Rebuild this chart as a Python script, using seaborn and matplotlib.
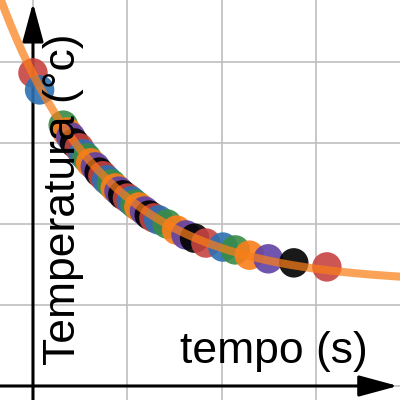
import numpy as np
import pandas as pd
import seaborn as sns
import matplotlib.pyplot as plt

# measured cooling data (time in s, temperature in C)
tempo = [0, 7, 32, 36, 40, 44, 49, 53, 57, 61, 66, 70, 74, 78, 83, 87, 91, 95,
         100, 104, 108, 112, 118, 123, 128, 133, 142, 152, 162, 171, 183, 201,
         214, 229, 249, 276, 311]
temperatura = [77.3, 73.1, 64.4, 62.7, 61.5, 60.0, 58.8, 57.3, 56.3, 55.1, 54.1,
               52.8, 51.9, 50.9, 49.9, 48.9, 48.1, 47.2, 46.4, 45.7, 44.9, 44.2,
               43.2, 42.2, 41.5, 41.0, 40.0, 38.5, 37.3, 36.5, 35.3, 34.3, 33.6,
               32.3, 31.4, 30.4, 29.4]
cores = ["red", "blue", "green", "orange", "purple", "black"]

# fitted model T = T_amb + dT * exp(-k t)
T_amb = 25.4
dT = 51.6
k = 0.00894

palette = {"red": "#c74440", "blue": "#2d70b3", "green": "#388c46",
           "orange": "#fa7e19", "purple": "#6042a6", "black": "#000000"}

df = pd.DataFrame({"tempo": tempo, "temperatura": temperatura})
df["cor"] = [cores[i % len(cores)] for i in range(len(df))]

t_fit = np.linspace(-40, 395, 300)
fit = pd.DataFrame({"tempo": t_fit, "temperatura": T_amb + dT * np.exp(-k * t_fit)})

sns.set_theme(style="white")
plt.rcParams["font.family"] = ["Liberation Sans", "DejaVu Sans"]

fig = plt.figure(figsize=(4, 4), dpi=100)
ax = fig.add_axes([0, 0, 1, 1])

xmin, xmax = -34.9, 388.4
ymin, ymax = -3.46, 95.3
ax.set_xlim(xmin, xmax)
ax.set_ylim(ymin, ymax)

# grid
ax.set_xticks([0, 100, 200, 300])
ax.set_yticks([0, 20, 40, 60, 80])
ax.grid(True, color="#bfbfbf", linewidth=1.2)
ax.tick_params(length=0, labelbottom=False, labelleft=False)
for s in ax.spines.values():
    s.set_visible(False)

# axis labels (behind the points)
fig.text(0.92, 0.0925, "tempo (s)", fontsize=32, color="black",
         ha="right", va="baseline", zorder=1)
fig.text(0.1875, 0.0875, "Temperatura (°c)", fontsize=32, color="black",
         rotation=90, rotation_mode="anchor", ha="left", va="baseline", zorder=1)

# axes with arrows
arrow = dict(arrowstyle="-|>,head_length=2.4,head_width=0.65", color="black",
             lw=2.2, mutation_scale=10, shrinkA=0, shrinkB=0)
ax.annotate("", xy=(386.2, 0), xytext=(xmin, 0), arrowprops=arrow, zorder=3)
ax.annotate("", xy=(0, 94.6), xytext=(0, ymin), arrowprops=arrow, zorder=3)

sns.scatterplot(data=df, x="tempo", y="temperatura", hue="cor", palette=palette,
                s=450, linewidth=0, alpha=0.9, legend=False, ax=ax, zorder=4)
sns.lineplot(data=fit, x="tempo", y="temperatura", color="#fa7e19", alpha=0.72,
             linewidth=5.8, ax=ax, zorder=5)
ax.set_xlabel("")
ax.set_ylabel("")

fig.savefig("out.png", dpi=100)
